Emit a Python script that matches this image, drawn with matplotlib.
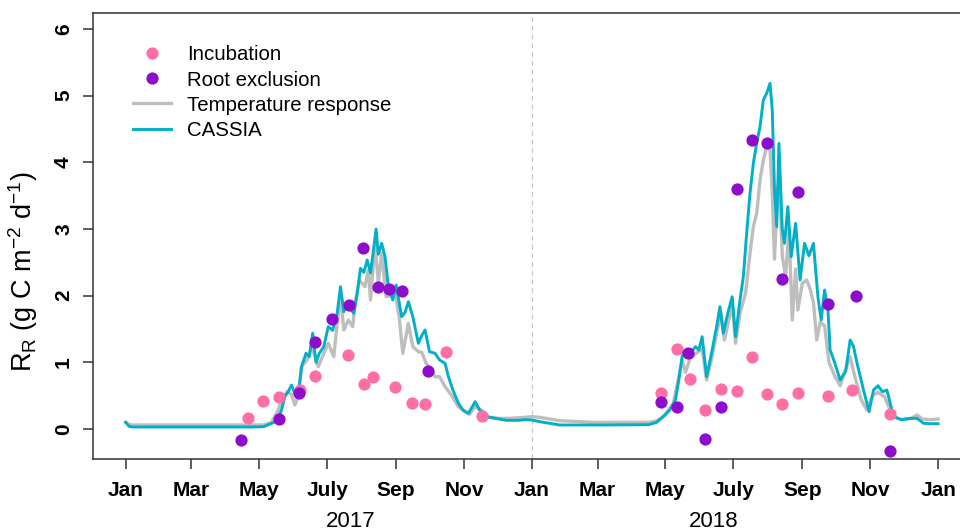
import matplotlib
matplotlib.use("Agg")
import matplotlib.pyplot as plt
import pandas as pd
from matplotlib.lines import Line2D

plt.rcParams['font.family'] = ['Liberation Sans', 'DejaVu Sans']
plt.rcParams['mathtext.default'] = 'regular'

# measurement dates and values
incub_dates = ["2017-04-21", "2017-05-04", "2017-05-19", "2017-06-07", "2017-06-20",
               "2017-07-20", "2017-08-03", "2017-08-11", "2017-08-31", "2017-09-15",
               "2017-09-27", "2017-10-16", "2017-11-17",
               "2018-04-27", "2018-05-11", "2018-05-23", "2018-06-06", "2018-06-20",
               "2018-07-04", "2018-07-18", "2018-07-31", "2018-08-14", "2018-08-28",
               "2018-09-24", "2018-10-16", "2018-11-19"]
incub_vals = [0.165, 0.425, 0.485, 0.585, 0.79, 1.11, 0.675, 0.775, 0.63, 0.385,
              0.375, 1.155, 0.195,
              0.535, 1.2, 0.745, 0.285, 0.6, 0.57, 1.085, 0.52, 0.37, 0.535,
              0.5, 0.585, 0.225]

root_dates = ["2017-04-15", "2017-05-19", "2017-06-06", "2017-06-20", "2017-07-05",
              "2017-07-21", "2017-08-02", "2017-08-16", "2017-08-26", "2017-09-06",
              "2017-09-30",
              "2018-04-27", "2018-05-11", "2018-05-21", "2018-06-06", "2018-06-20",
              "2018-07-04", "2018-07-18", "2018-07-31", "2018-08-14", "2018-08-28",
              "2018-09-24", "2018-10-19", "2018-11-19"]
root_vals = [-0.165, 0.15, 0.545, 1.31, 1.65, 1.865, 2.71, 2.135, 2.095, 2.07, 0.875,
             0.41, 0.325, 1.135, -0.15, 0.33, 3.595, 4.335, 4.29, 2.255, 3.555,
             1.87, 1.995, -0.325]

# modelled series, days since 1 Jan 2017
cassia_days = [0, 3, 6, 30, 60, 90, 115, 124, 131, 136, 140, 143, 146, 149, 152, 155,
               158, 162, 165, 168, 171, 174, 178, 182, 186, 190, 193, 196, 199, 202,
               205, 208, 211, 214, 217, 220, 222, 225, 227, 230, 233, 236, 240, 243,
               248, 251, 254, 258, 263, 266, 269, 273, 278, 282, 287, 290, 294, 299,
               303, 308, 314, 318, 324, 332, 342, 352, 360, 365, 372, 390, 430, 470,
               477, 483, 489, 494, 497, 500, 503, 507, 512, 515, 518, 522, 527, 531,
               534, 537, 541, 545, 548, 552, 555, 558, 561, 564, 567, 570, 573, 576,
               579, 581, 583, 585, 587, 590, 592, 595, 598, 602, 606, 610, 614, 618,
               622, 625, 628, 631, 633, 637, 642, 647, 651, 654, 657, 663, 668, 672,
               676, 680, 684, 690, 697, 705, 711, 717, 723, 730]
cassia_vals = [0.10, 0.04, 0.03, 0.03, 0.03, 0.03, 0.03, 0.035, 0.085, 0.12, 0.285,
               0.485, 0.56, 0.66, 0.535, 0.50, 0.935, 1.135, 1.085, 1.435, 1.0, 1.135,
               1.235, 1.535, 1.48, 1.735, 2.135, 1.76, 1.885, 1.80, 1.735, 2.03, 2.41,
               2.35, 2.535, 2.34, 2.6, 3.0, 2.62, 2.785, 2.585, 2.135, 1.935, 2.16,
               1.685, 1.75, 1.91, 1.685, 1.285, 1.40, 1.485, 1.16, 1.135, 1.035, 0.985,
               0.785, 0.585, 0.385, 0.285, 0.235, 0.41, 0.285, 0.185, 0.16, 0.13, 0.13,
               0.14, 0.135, 0.11, 0.06, 0.06, 0.065, 0.10, 0.185, 0.285, 0.435, 0.735,
               1.085, 1.18, 1.13, 1.235, 1.185, 1.385, 0.785, 1.185, 1.535, 1.835,
               1.435, 1.735, 1.985, 1.385, 1.935, 2.285, 2.935, 3.535, 3.985, 4.285,
               4.535, 4.935, 5.035, 5.185, 4.785, 3.6, 3.035, 4.285, 3.0, 2.785, 3.335,
               2.585, 3.085, 2.235, 2.785, 2.6, 2.785, 1.985, 1.635, 2.085, 1.8, 1.185,
               1.0, 0.735, 0.87, 1.335, 1.24, 1.0, 0.585, 0.26, 0.585, 0.65, 0.56,
               0.585, 0.185, 0.14, 0.16, 0.16, 0.085, 0.08, 0.08]

temp_days = [0, 3, 6, 115, 124, 131, 137, 140, 145, 149, 152, 155, 158, 163, 167, 170,
             173, 178, 182, 187, 190, 193, 196, 200, 204, 206, 210, 215, 218, 220, 224,
             227, 230, 234, 238, 242, 246, 249, 254, 258, 263, 266, 270, 274, 278, 282,
             287, 293, 299, 305, 309, 314, 320, 326, 335, 345, 355, 365, 372, 390, 420,
             470, 477, 484, 492, 497, 500, 503, 507, 512, 518, 522, 527, 531, 535, 538,
             542, 545, 548, 552, 557, 561, 564, 567, 570, 573, 576, 579, 581, 583, 586,
             588, 590, 593, 596, 599, 602, 604, 608, 612, 615, 618, 621, 624, 628, 632,
             637, 642, 651, 655, 661, 666, 671, 676, 682, 689, 697, 706, 711, 716, 723,
             730]
temp_vals = [0.10, 0.07, 0.06, 0.06, 0.06, 0.10, 0.285, 0.435, 0.56, 0.52, 0.36, 0.50,
             0.935, 1.035, 1.235, 1.10, 0.935, 1.135, 1.285, 1.085, 1.585, 1.985, 1.485,
             1.635, 1.535, 1.885, 2.235, 2.135, 2.385, 1.935, 2.785, 2.2, 2.635, 1.985,
             2.0, 2.1, 1.635, 1.135, 1.585, 1.235, 1.16, 1.15, 0.985, 0.9, 0.785, 0.785,
             0.635, 0.5, 0.335, 0.26, 0.22, 0.335, 0.28, 0.18, 0.16, 0.16, 0.17, 0.185,
             0.175, 0.125, 0.10, 0.10, 0.12, 0.20, 0.385, 0.78, 1.035, 0.85, 1.05, 1.13,
             1.2, 0.735, 1.085, 1.435, 1.735, 1.335, 1.635, 1.885, 1.285, 1.735, 2.035,
             2.635, 3.035, 3.235, 3.735, 4.035, 4.235, 4.185, 3.535, 2.55, 3.635, 3.485,
             2.6, 2.285, 3.0, 1.635, 2.4, 1.785, 2.185, 2.235, 2.1, 1.9, 1.335, 1.6, 1.55,
             1.0, 0.8, 0.65, 1.085, 0.8, 0.435, 0.285, 0.5, 0.55, 0.48, 0.2, 0.14, 0.16,
             0.21, 0.15, 0.14, 0.15]

month_ticks = ["2017-01-01", "2017-03-01", "2017-05-01", "2017-07-01", "2017-09-01",
               "2017-11-01", "2018-01-01", "2018-03-01", "2018-05-01", "2018-07-01",
               "2018-09-01", "2018-11-01", "2019-01-01"]
month_labels = ["Jan", "Mar", "May", "July", "Sep", "Nov",
                "Jan", "Mar", "May", "July", "Sep", "Nov", "Jan"]

start = pd.Timestamp("2017-01-01")
cassia_x = start + pd.to_timedelta(cassia_days, unit="D")
temp_x = start + pd.to_timedelta(temp_days, unit="D")

col_inc = "#FF6FA5"
col_root = "#8E0CCB"
col_temp = "#BEBEBE"
col_cassia = "#00B0C6"

fig = plt.figure(figsize=(9.6, 5.32), dpi=100)
ax = fig.add_axes([0.0971, 0.1372, 0.9139, 0.839])

ax.axvline(pd.Timestamp("2018-01-01"), color="#C8C8C8", lw=0.9, ls=(0, (4, 3)), zorder=1)
ax.plot(temp_x, temp_vals, color=col_temp, lw=2.4, zorder=2)
ax.plot(cassia_x, cassia_vals, color=col_cassia, lw=2.1, zorder=3)
ax.plot(pd.to_datetime(incub_dates), incub_vals, "o", color=col_inc, ms=8.8, mec="none", zorder=4)
ax.plot(pd.to_datetime(root_dates), root_vals, "o", color=col_root, ms=8.8, mec="none", zorder=5)

ax.set_xlim(start - pd.Timedelta(days=29.2), pd.Timestamp("2019-01-01") + pd.Timedelta(days=29.2))
ax.set_ylim(-0.45, 6.245)
ax.set_xticks(pd.to_datetime(month_ticks))
ax.set_xticklabels(month_labels, fontsize=15, fontweight="bold")
ax.set_yticks(range(0, 7))
ax.set_yticklabels([str(v) for v in range(0, 7)], fontsize=15, fontweight="bold",
                   rotation=90, va="center")
ax.tick_params(axis="both", length=7.5, width=1.1, color="#333333")
ax.tick_params(axis="x", pad=8)
ax.tick_params(axis="y", pad=7)
for s in ax.spines.values():
    s.set_linewidth(1.1)
    s.set_color("#333333")

ax.set_ylabel(r"$R_R$ (g C m$^{-2}$ d$^{-1}$)", fontsize=19.5)
ax.yaxis.set_label_coords(-0.061, 0.419)

fig.text(0.365, 0.019, "2017", fontsize=16, ha="center", va="center")
fig.text(0.743, 0.019, "2018", fontsize=16, ha="center", va="center")

handles = [
    Line2D([], [], ls="none", marker="o", color=col_inc, ms=8.8, mec="none"),
    Line2D([], [], ls="none", marker="o", color=col_root, ms=8.8, mec="none"),
    Line2D([], [], color=col_temp, lw=2.4),
    Line2D([], [], color=col_cassia, lw=2.1),
]
labels = ["Incubation", "Root exclusion", "Temperature response", "CASSIA"]
ax.legend(handles, labels, loc="upper left", bbox_to_anchor=(0.036, 0.945), frameon=False,
          fontsize=14.7, handlelength=1.86, handletextpad=0.8, labelspacing=0.3,
          borderaxespad=0)

fig.savefig("out.png", dpi=100)
